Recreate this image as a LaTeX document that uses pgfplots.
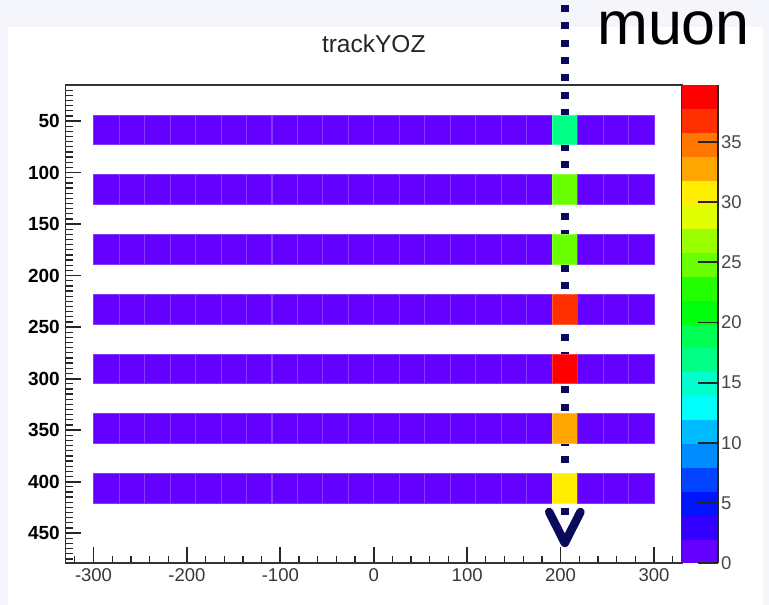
\documentclass[border=0pt]{standalone}
\usepackage{pgfplots}
\pgfplotsset{compat=1.18}
\usepackage{fontspec}
\setmainfont{Liberation Sans}

\definecolor{pagebg}{RGB}{244,246,252}
\definecolor{muonblue}{RGB}{10,10,92}

% one histogram bin: 600/22 wide in x, 29 tall in y (axis scale fixed below)
\pgfdeclareplotmark{cell}{%
  \pgfpathrectangle{\pgfqpoint{-12.7375pt}{-14.9375pt}}{\pgfqpoint{25.475pt}{29.875pt}}%
  \pgfusepathqfillstroke}

\begin{document}
\begin{tikzpicture}
\fill[pagebg] (0,0) rectangle (769pt,605pt);
\fill[white] (8pt,0) rectangle (763pt,578pt);
\useasboundingbox (0,0) rectangle (769pt,605pt);
\begin{axis}[
  at={(65.5pt,42pt)}, anchor=south west,
  scale only axis, width=616.5pt, height=478pt,
  xmin=-330, xmax=330, ymin=15, ymax=479, y dir=reverse,
  clip=false,
  axis line style={line width=1.8pt, draw=black!80},
  tick pos=left, tick align=inside,
  xtick={-300,-200,...,300},
  xticklabels={-300,-200,-100,0,100,200,300},
  minor xtick={-320,-300,...,320},
  ytick={50,100,...,450},
  yticklabels={50,100,150,200,250,300,350,400,450},
  minor ytick={20,25,...,475},
  major tick length=16pt, minor tick length=7pt,
  major tick style={line width=1.8pt, black!85},
  minor tick style={line width=1.3pt, black!85},
  xticklabel style={font=\fontsize{18.5}{20}\selectfont, text=black!78, inner sep=0pt, yshift=-5pt},
  yticklabel style={font=\fontsize{19}{21}\selectfont\bfseries, inner sep=0pt, xshift=-5.5pt},
  title={trackYOZ},
  title style={font=\fontsize{24.5}{26}\selectfont, text=black!85, at={(0.5,1)}, anchor=base, yshift=26.5pt},
  % 20 equal contour bands of the violet-to-red palette
  colormap={rootpretty}{
    rgb255=(99,0,255) rgb255=(51,0,255) rgb255=(0,20,255) rgb255=(0,68,255)
    rgb255=(0,139,255) rgb255=(0,187,255) rgb255=(0,255,251) rgb255=(0,255,204)
    rgb255=(0,255,133) rgb255=(0,255,85) rgb255=(0,255,14) rgb255=(34,255,0)
    rgb255=(105,255,0) rgb255=(153,255,0) rgb255=(224,255,0) rgb255=(255,238,0)
    rgb255=(255,167,0) rgb255=(255,119,0) rgb255=(255,48,0) rgb255=(255,0,0)},
  colormap access=piecewise constant,
  point meta min=0, point meta max=39.75,
  colorbar,
  colorbar style={
    at={(1,1)}, anchor=north west, xshift=4.3pt,
    scale only axis, width=36pt, height=478pt,
    axis x line=none, axis y line*=right,
    axis line style={line width=1.3pt, draw=black!85},
    ytick={0,5,...,35},
    yticklabels={0,5,10,15,20,25,30,35},
    yticklabel style={font=\fontsize{18.5}{20}\selectfont, text=black!72, inner sep=0pt, xshift=3pt},
    tick align=inside, major tick length=20pt,
    major tick style={line width=1.8pt, black!85},
    minor tick num=0,
  },
]
% bin contents: seven scintillator layers, 22 bins each
\addplot[scatter, only marks, mark=cell, point meta=explicit,
  scatter/use mapped color={draw=mapped color!78!white, fill=mapped color},
  mark options={line width=0.7pt}]
coordinates {
(-286.36,58.5)[1] (-259.09,58.5)[1] (-231.82,58.5)[1] (-204.55,58.5)[1] (-177.27,58.5)[1] (-150.00,58.5)[1] (-122.73,58.5)[1] (-95.45,58.5)[1] (-68.18,58.5)[1] (-40.91,58.5)[1] (-13.64,58.5)[1] (13.64,58.5)[1] (40.91,58.5)[1] (68.18,58.5)[1] (95.45,58.5)[1] (122.73,58.5)[1] (150.00,58.5)[1] (177.27,58.5)[1] (204.55,58.5)[17] (231.82,58.5)[1] (259.09,58.5)[1] (286.36,58.5)[1]
(-286.36,116.5)[1] (-259.09,116.5)[1] (-231.82,116.5)[1] (-204.55,116.5)[1] (-177.27,116.5)[1] (-150.00,116.5)[1] (-122.73,116.5)[1] (-95.45,116.5)[1] (-68.18,116.5)[1] (-40.91,116.5)[1] (-13.64,116.5)[1] (13.64,116.5)[1] (40.91,116.5)[1] (68.18,116.5)[1] (95.45,116.5)[1] (122.73,116.5)[1] (150.00,116.5)[1] (177.27,116.5)[1] (204.55,116.5)[25] (231.82,116.5)[1] (259.09,116.5)[1] (286.36,116.5)[1]
(-286.36,174.5)[1] (-259.09,174.5)[1] (-231.82,174.5)[1] (-204.55,174.5)[1] (-177.27,174.5)[1] (-150.00,174.5)[1] (-122.73,174.5)[1] (-95.45,174.5)[1] (-68.18,174.5)[1] (-40.91,174.5)[1] (-13.64,174.5)[1] (13.64,174.5)[1] (40.91,174.5)[1] (68.18,174.5)[1] (95.45,174.5)[1] (122.73,174.5)[1] (150.00,174.5)[1] (177.27,174.5)[1] (204.55,174.5)[25] (231.82,174.5)[1] (259.09,174.5)[1] (286.36,174.5)[1]
(-286.36,232.5)[1] (-259.09,232.5)[1] (-231.82,232.5)[1] (-204.55,232.5)[1] (-177.27,232.5)[1] (-150.00,232.5)[1] (-122.73,232.5)[1] (-95.45,232.5)[1] (-68.18,232.5)[1] (-40.91,232.5)[1] (-13.64,232.5)[1] (13.64,232.5)[1] (40.91,232.5)[1] (68.18,232.5)[1] (95.45,232.5)[1] (122.73,232.5)[1] (150.00,232.5)[1] (177.27,232.5)[1] (204.55,232.5)[37] (231.82,232.5)[1] (259.09,232.5)[1] (286.36,232.5)[1]
(-286.36,290.5)[1] (-259.09,290.5)[1] (-231.82,290.5)[1] (-204.55,290.5)[1] (-177.27,290.5)[1] (-150.00,290.5)[1] (-122.73,290.5)[1] (-95.45,290.5)[1] (-68.18,290.5)[1] (-40.91,290.5)[1] (-13.64,290.5)[1] (13.64,290.5)[1] (40.91,290.5)[1] (68.18,290.5)[1] (95.45,290.5)[1] (122.73,290.5)[1] (150.00,290.5)[1] (177.27,290.5)[1] (204.55,290.5)[39.75] (231.82,290.5)[1] (259.09,290.5)[1] (286.36,290.5)[1]
(-286.36,348.5)[1] (-259.09,348.5)[1] (-231.82,348.5)[1] (-204.55,348.5)[1] (-177.27,348.5)[1] (-150.00,348.5)[1] (-122.73,348.5)[1] (-95.45,348.5)[1] (-68.18,348.5)[1] (-40.91,348.5)[1] (-13.64,348.5)[1] (13.64,348.5)[1] (40.91,348.5)[1] (68.18,348.5)[1] (95.45,348.5)[1] (122.73,348.5)[1] (150.00,348.5)[1] (177.27,348.5)[1] (204.55,348.5)[33] (231.82,348.5)[1] (259.09,348.5)[1] (286.36,348.5)[1]
(-286.36,406.5)[1] (-259.09,406.5)[1] (-231.82,406.5)[1] (-204.55,406.5)[1] (-177.27,406.5)[1] (-150.00,406.5)[1] (-122.73,406.5)[1] (-95.45,406.5)[1] (-68.18,406.5)[1] (-40.91,406.5)[1] (-13.64,406.5)[1] (13.64,406.5)[1] (40.91,406.5)[1] (68.18,406.5)[1] (95.45,406.5)[1] (122.73,406.5)[1] (150.00,406.5)[1] (177.27,406.5)[1] (204.55,406.5)[31] (231.82,406.5)[1] (259.09,406.5)[1] (286.36,406.5)[1]
};
% muon track through the hit column
\draw[muonblue, line width=7.5pt, dash pattern=on 7pt off 10.34pt]
  (axis cs:204.55,-62.66) -- (axis cs:204.55,432.9);
\draw[muonblue, line width=8.5pt, line cap=round, line join=round]
  (axis cs:187.8,429.5) -- (axis cs:204.55,459.5) -- (axis cs:221.3,429.5);
\end{axis}
\node[anchor=base west, inner sep=0pt, text height=33pt, text depth=0pt,
  font=\fontsize{61}{64}\selectfont] at (597pt,560pt) {muon};
\end{tikzpicture}
\end{document}
